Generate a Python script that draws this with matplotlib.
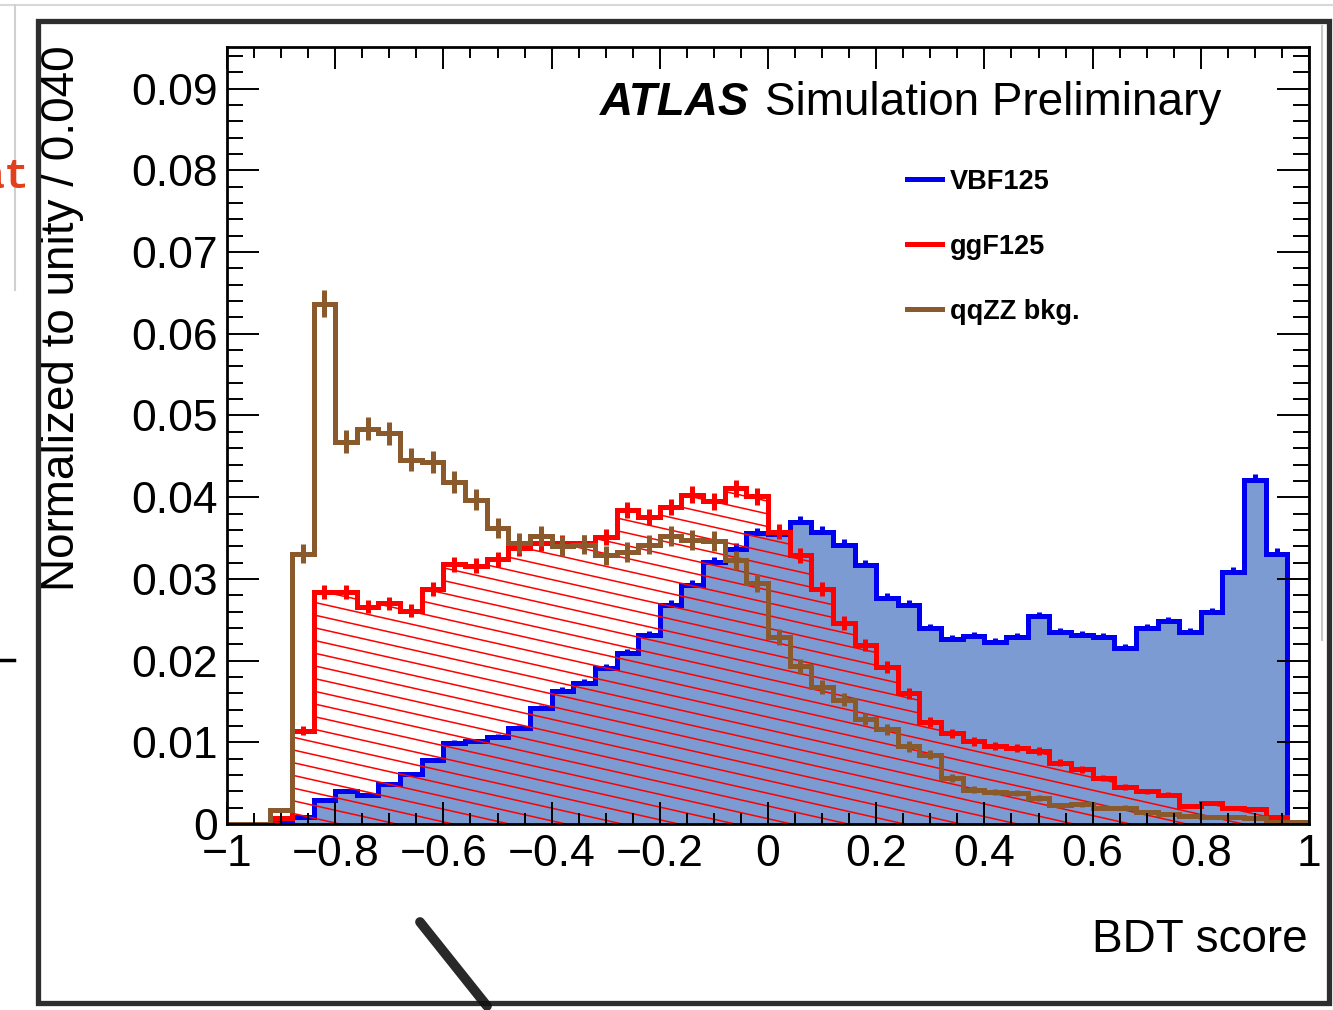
import numpy as np
import matplotlib
matplotlib.use("Agg")
import matplotlib.pyplot as plt
from matplotlib.collections import LineCollection
from matplotlib.lines import Line2D
from matplotlib.patches import Rectangle
from matplotlib.ticker import FixedLocator, MultipleLocator

plt.rcParams['font.family'] = ['Liberation Sans', 'DejaVu Sans']

# ---- binning of the BDT score ----
score_min, score_max, n_bins = -1.0, 1.0, 50

# ---- normalised bin contents (unit area), one value per bin ----
vbf125 = [0.0, 0.0, 0.0002, 0.0008, 0.0029, 0.0040, 0.0036, 0.0049, 0.0061, 0.0078,
          0.0099, 0.0101, 0.0107, 0.0117, 0.0142, 0.0163, 0.0173, 0.0191, 0.0209, 0.0231,
          0.0268, 0.0293, 0.0321, 0.0337, 0.0356, 0.0355, 0.0370, 0.0358, 0.0342, 0.0317,
          0.0277, 0.0268, 0.0240, 0.0226, 0.0230, 0.0223, 0.0229, 0.0254, 0.0235, 0.0231,
          0.0229, 0.0215, 0.0240, 0.0248, 0.0235, 0.0259, 0.0308, 0.0421, 0.0331, 0.0]

ggf125 = [0.0, 0.0, 0.0007, 0.0114, 0.0284, 0.0284, 0.0266, 0.0270, 0.0261, 0.0288,
          0.0318, 0.0316, 0.0324, 0.0338, 0.0344, 0.0344, 0.0344, 0.0351, 0.0384, 0.0376,
          0.0388, 0.0403, 0.0395, 0.0411, 0.0401, 0.0358, 0.0329, 0.0288, 0.0246, 0.0219,
          0.0192, 0.0160, 0.0125, 0.0111, 0.0101, 0.0095, 0.0093, 0.0089, 0.0075, 0.0067,
          0.0056, 0.0045, 0.0040, 0.0036, 0.0022, 0.0026, 0.0019, 0.0018, 0.0009, 0.0]

qqzz = [0.0, 0.0, 0.0017, 0.0331, 0.0637, 0.0468, 0.0484, 0.0478, 0.0446, 0.0443,
        0.0419, 0.0397, 0.0362, 0.0344, 0.0352, 0.0340, 0.0342, 0.0329, 0.0333, 0.0342,
        0.0352, 0.0348, 0.0346, 0.0323, 0.0295, 0.0229, 0.0193, 0.0168, 0.0152, 0.0129,
        0.0116, 0.0095, 0.0085, 0.0056, 0.0042, 0.0039, 0.0038, 0.0032, 0.0023, 0.0024,
        0.0020, 0.0020, 0.0015, 0.0012, 0.0010, 0.0008, 0.0008, 0.0007, 0.0003, 0.0002]

# statistical weight of each MC sample (variance per unit content)
vbf_stat = 1.2e-5
ggf_stat = 2.6e-5
qqzz_stat = 4.2e-5

legend_labels = ["VBF125", "ggF125", "qqZZ bkg."]

x_ticks = [-1.0, -0.8, -0.6, -0.4, -0.2, 0.0, 0.2, 0.4, 0.6, 0.8, 1.0]
x_tick_labels = ["\u22121", "\u22120.8", "\u22120.6", "\u22120.4", "\u22120.2", "0",
                 "0.2", "0.4", "0.6", "0.8", "1"]
y_ticks = [0.0, 0.01, 0.02, 0.03, 0.04, 0.05, 0.06, 0.07, 0.08, 0.09]
y_tick_labels = ["0", "0.01", "0.02", "0.03", "0.04", "0.05", "0.06", "0.07", "0.08", "0.09"]

# ---- styles ----
C_VBF = "#0000f0"
C_VBF_FILL = "#7b9bd2"
C_GGF = "#ff0000"
C_ZZ = "#8a5a2c"
LW = 3.6

W, H = 1333, 1010
fig = plt.figure(figsize=(W / 100, H / 100), dpi=100)
fig.patch.set_facecolor("white")

ax_l, ax_r, ax_t, ax_b = 227, 1309, 47, 824
ax = fig.add_axes([ax_l / W, 1 - ax_b / H, (ax_r - ax_l) / W, (ax_b - ax_t) / H])

edges = np.linspace(score_min, score_max, n_bins + 1)
centers = 0.5 * (edges[:-1] + edges[1:])

vbf = np.asarray(vbf125)
ggf = np.asarray(ggf125)
zz = np.asarray(qqzz)


def stat_err(vals, w):
    return np.sqrt(vals * w)


# VBF: filled histogram with outline
ax.stairs(vbf, edges, fill=True, facecolor=C_VBF_FILL, edgecolor="none", zorder=1.0)
m = vbf > 0
ax.vlines(centers[m], vbf[m] - stat_err(vbf[m], vbf_stat), vbf[m] + stat_err(vbf[m], vbf_stat),
          colors=C_VBF, lw=LW, zorder=0.9)
ax.stairs(vbf, edges, color=C_VBF, lw=LW, zorder=1.2)

# ggF: hatched histogram (shallow red diagonal lines)
clip = ax.stairs(ggf, edges, fill=True, facecolor="none", edgecolor="none", lw=0, zorder=1.3)
pw = (ax_r - ax_l)
ph = (ax_b - ax_t)
slope = 0.225 * pw / ph
step = 12.7 / ph
ks = np.arange(0, int((1 + slope) / step) + 3)
segs = [[(0.0, k * step), (1.0, k * step - slope)] for k in ks]
hatch = LineCollection(segs, colors=C_GGF, linewidths=1.1, transform=ax.transAxes, zorder=1.3)
ax.add_collection(hatch)
hatch.set_clip_path(clip)
m = ggf > 0
ax.vlines(centers[m], ggf[m] - stat_err(ggf[m], ggf_stat), ggf[m] + stat_err(ggf[m], ggf_stat),
          colors=C_GGF, lw=LW, zorder=1.5)
ax.stairs(ggf, edges, color=C_GGF, lw=LW, zorder=1.5)

# qqZZ background: outline only
m = zz > 0
ax.vlines(centers[m], zz[m] - stat_err(zz[m], qqzz_stat), zz[m] + stat_err(zz[m], qqzz_stat),
          colors=C_ZZ, lw=LW, zorder=1.7)
ax.stairs(zz, edges, color=C_ZZ, lw=LW, zorder=1.7)

# ---- axes ----
ax.set_xlim(score_min, score_max)
ax.set_ylim(0, 0.0951)
ax.set_axisbelow(False)
ax.xaxis.set_major_locator(FixedLocator(x_ticks))
ax.set_xticklabels(x_tick_labels)
ax.xaxis.set_minor_locator(MultipleLocator(0.05))
ax.yaxis.set_major_locator(FixedLocator(y_ticks))
ax.set_yticklabels(y_tick_labels)
ax.yaxis.set_minor_locator(MultipleLocator(0.002))
ax.tick_params(which="both", direction="in", top=True, right=True, width=1.4, colors="black")
ax.tick_params(axis="x", which="major", length=15.8, labelsize=32, pad=7)
ax.tick_params(axis="x", which="minor", length=7.9)
ax.tick_params(axis="y", which="major", length=23, labelsize=32, pad=6.5)
ax.tick_params(axis="y", which="minor", length=11.5)
for s in ax.spines.values():
    s.set_linewidth(2.0)

# axis titles
fig.text(1308 / W, 1 - 952 / H, "BDT score", ha="right", va="baseline", fontsize=33)
fig.text(74 / W, 1 - 45 / H, "Normalized to unity / 0.040", rotation=90,
         rotation_mode="anchor", ha="right", va="baseline", fontsize=33)

# experiment label
fig.text(600 / W, 1 - 115 / H, "ATLAS", fontsize=33, fontweight="bold", fontstyle="italic",
         ha="left", va="baseline")
fig.text(765 / W, 1 - 115 / H, "Simulation Preliminary", fontsize=33, ha="left", va="baseline")

# legend
for lab, col, yc in zip(legend_labels, [C_VBF, C_GGF, C_ZZ], [179, 244, 309]):
    fig.add_artist(Line2D([907 / W, 942 / W], [1 - yc / H, 1 - yc / H], color=col, lw=3.6,
                          transform=fig.transFigure))
    fig.text(950 / W, 1 - yc / H, lab, fontsize=19.5, fontweight="bold", ha="left",
             va="center_baseline")

# ---- slide frame around the plot ----
ov = fig.add_axes([0, 0, 1, 1], zorder=5)
ov.set_xlim(0, W)
ov.set_ylim(H, 0)
ov.axis("off")
ov.patch.set_visible(False)
ov.plot([0, W], [5, 5], color="#d8d8d8", lw=1.5)
ov.plot([15, 15], [5, 290], color="#d0d0d0", lw=1.5)
ov.plot([1322, 1322], [26, 640], color="#c8c8c8", lw=1.5)
ov.add_patch(Rectangle((38, 21), 1329 - 38, 1003 - 21, fill=False, edgecolor="#2e2e2e", lw=3.8))
ov.text(30, 188, "at", color="#e2401c", fontsize=30, fontweight="bold",
        family=["Liberation Mono", "DejaVu Sans Mono"], ha="right", va="baseline")
ov.plot([0, 14], [660, 660], color="black", lw=2.5)
ov.plot([420, 487], [922, 1006], color="#111111", lw=7, solid_capstyle="round", alpha=0.9)

fig.savefig("out.png", dpi=100, facecolor="white")
